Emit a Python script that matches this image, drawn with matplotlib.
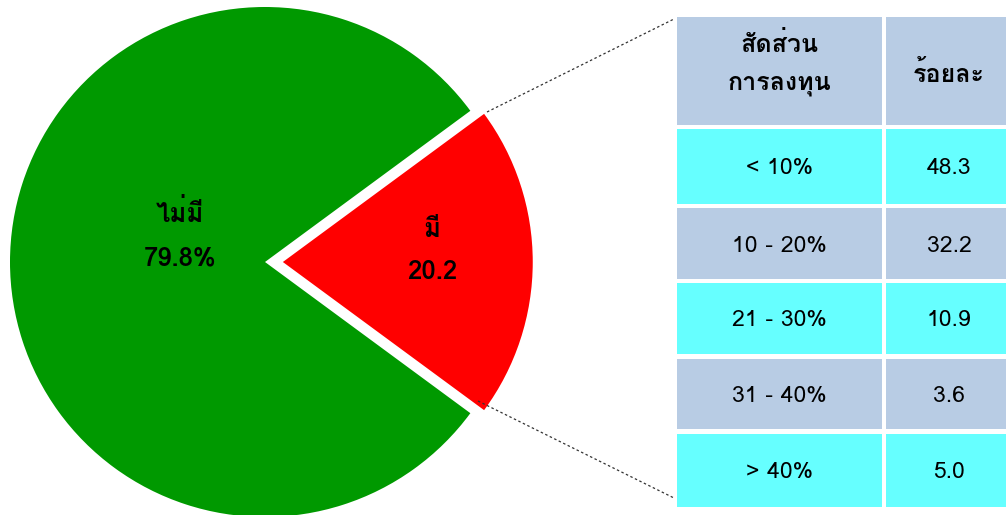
import matplotlib
matplotlib.use("Agg")
import matplotlib.pyplot as plt
from matplotlib import font_manager
from matplotlib.patches import Rectangle
from fontTools.ttLib import TTFont

# data
pie_labels = ["มี", "ไม่มี"]
pie_values = [20.2, 79.8]
pie_texts = ["20.2", "79.8%"]
pie_colors = ["#FF0000", "#009900"]

table_header = ["สัดส่วน\nการลงทุน", "ร้อยละ"]
share_ranges = ["< 10%", "10 - 20%", "21 - 30%", "31 - 40%", "> 40%"]
share_pct = [48.3, 32.2, 10.9, 3.6, 5.0]


def find_thai_family():
    seen = set()
    for fe in font_manager.fontManager.ttflist:
        if fe.name in seen:
            continue
        seen.add(fe.name)
        try:
            f = TTFont(fe.fname, fontNumber=0, lazy=True)
            cmap = f.getBestCmap()
            if cmap and 0x0E21 in cmap and 0x0E35 in cmap:
                return fe.name
        except Exception:
            pass
    return None


thai = find_thai_family()
fams = ([thai] if thai else []) + ["DejaVu Sans"]
plt.rcParams["font.family"] = fams

W, H = 1006, 515
fig = plt.figure(figsize=(W / 100, H / 100), dpi=100)

# pie: centre (265, 262) px, radius 255 px
cx, cy, r = 265, 262, 255
ax = fig.add_axes([(cx - r) / W, (H - cy - r) / H, 2 * r / W, 2 * r / H])
half = pie_values[0] / 100 * 360 / 2
wedges, _ = ax.pie(pie_values, colors=pie_colors, startangle=-half, counterclock=True,
                   explode=[0.07, 0], radius=1.0, wedgeprops=dict(linewidth=0))
wedges[0].set_radius(0.98)
ax.set_xlim(-1, 1)
ax.set_ylim(-1, 1)
ax.set_aspect("equal")
ax.axis("off")

# overlay in pixel coordinates
ov = fig.add_axes([0, 0, 1, 1], zorder=5)
ov.set_xlim(0, W)
ov.set_ylim(H, 0)
ov.axis("off")
ov.patch.set_alpha(0)

# labels in pie
ov.text(180, 213, pie_labels[1], ha="center", va="center", fontsize=18.5, fontweight="bold")
ov.text(180, 258, pie_texts[1], ha="center", va="center", fontsize=18.5, fontweight="bold")
ov.text(432, 230, pie_labels[0], ha="center", va="center", fontsize=18.5, fontweight="bold")
ov.text(432, 272, pie_texts[0], ha="center", va="center", fontsize=18.5, fontweight="bold")

# connector lines
ov.plot([487, 674], [112, 19], ls=(0, (2, 2)), color="#333333", lw=0.9)
ov.plot([478, 674], [401, 498], ls=(0, (2, 2)), color="#333333", lw=0.9)

# table
blue, cyan = "#B8CCE4", "#66FFFF"
c1x, c1w = 677, 205
c2x, c2w = 886, 122
hdr_top, hdr_bot = 17, 125
ov.add_patch(Rectangle((c1x, hdr_top), c1w, hdr_bot - hdr_top, color=blue, lw=0))
ov.add_patch(Rectangle((c2x, hdr_top), c2w, hdr_bot - hdr_top, color=blue, lw=0))
ov.text(c1x + c1w / 2, 64, table_header[0], ha="center", va="center", fontsize=18,
        fontweight="bold", linespacing=1.75)
ov.text(949, 74, table_header[1], ha="center", va="center", fontsize=18, fontweight="bold")

row_top = [129, 208, 283, 359, 434]
row_h = [75, 71, 71, 70, 73]
for i, (lab, val) in enumerate(zip(share_ranges, share_pct)):
    col = cyan if i % 2 == 0 else blue
    y0, h = row_top[i], row_h[i]
    ov.add_patch(Rectangle((c1x, y0), c1w, h, color=col, lw=0))
    ov.add_patch(Rectangle((c2x, y0), c2w, h, color=col, lw=0))
    ov.text(c1x + c1w / 2, y0 + h / 2 + 2.5, lab, ha="center", va="center", fontsize=16.5)
    ov.text(949, y0 + h / 2 + 2.5, f"{val:.1f}", ha="center", va="center", fontsize=16.5)

fig.savefig("out.png", dpi=100)
